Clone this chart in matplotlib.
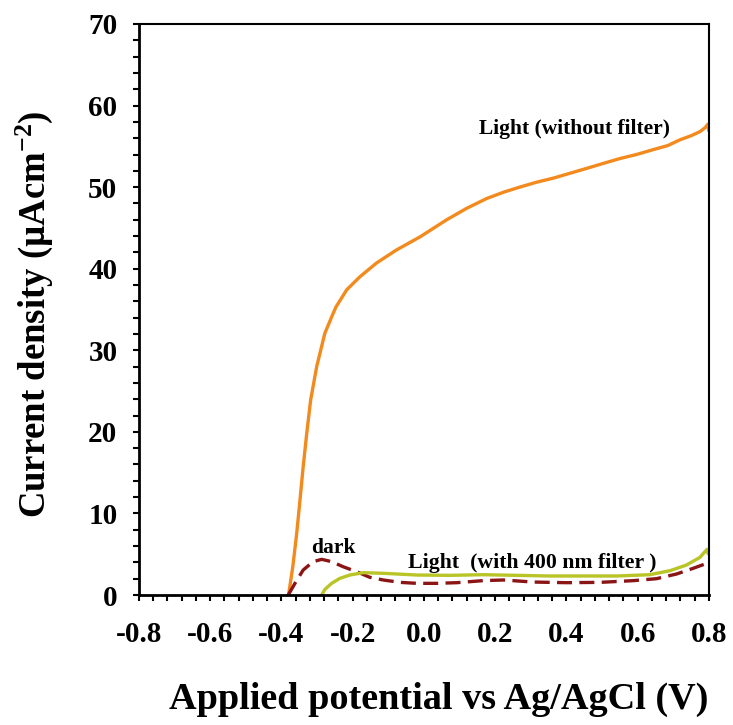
import numpy as np
import matplotlib
matplotlib.use('Agg')
import matplotlib.pyplot as plt
from matplotlib.ticker import MultipleLocator, FormatStrFormatter

plt.rcParams['font.family'] = 'Liberation Serif'
plt.rcParams['font.weight'] = 'bold'
plt.rcParams['axes.unicode_minus'] = False
plt.rcParams['mathtext.fontset'] = 'custom'
plt.rcParams['mathtext.rm'] = 'Liberation Serif:bold'
plt.rcParams['mathtext.bf'] = 'Liberation Serif:bold'
plt.rcParams['mathtext.default'] = 'bf'

# Light (without filter)
light_x = [-0.380, -0.368, -0.357, -0.348, -0.339, -0.329, -0.318, -0.301, -0.278, -0.255,
           -0.247, -0.217, -0.180, -0.133, -0.077, -0.011, 0.064, 0.120, 0.176, 0.225,
           0.269, 0.316, 0.363, 0.410, 0.457, 0.503, 0.550, 0.597, 0.644, 0.685,
           0.719, 0.750, 0.775, 0.790, 0.797, 0.800]
light_y = [0.0, 3.5, 7.6, 11.6, 15.7, 19.8, 23.9, 28.0, 32.1, 34.5,
           35.3, 37.4, 39.0, 40.7, 42.3, 43.9, 46.0, 47.4, 48.6, 49.4,
           50.0, 50.6, 51.1, 51.7, 52.3, 52.9, 53.5, 54.0, 54.6, 55.1,
           55.8, 56.3, 56.8, 57.3, 57.7, 57.0]

# dark
dark_x = [-0.381, -0.362, -0.339, -0.311, -0.287, -0.259, -0.227, -0.189, -0.152, -0.114,
          -0.067, -0.020, 0.035, 0.092, 0.166, 0.223, 0.307, 0.400, 0.494, 0.588,
          0.653, 0.709, 0.756, 0.794, 0.798]
dark_y = [0.0, 1.43, 3.06, 4.09, 4.37, 4.09, 3.47, 2.86, 2.17, 1.84,
          1.55, 1.43, 1.43, 1.51, 1.76, 1.84, 1.59, 1.51, 1.55, 1.76,
          2.0, 2.57, 3.27, 3.88, 3.47]

# Light (with 400 nm filter)
filt_x = [-0.287, -0.278, -0.259, -0.236, -0.208, -0.170, -0.114, -0.020, 0.073, 0.166,
          0.260, 0.354, 0.447, 0.541, 0.634, 0.691, 0.737, 0.775, 0.795, 0.798]
filt_y = [0.0, 0.69, 1.43, 2.04, 2.45, 2.74, 2.66, 2.45, 2.41, 2.49,
          2.41, 2.33, 2.33, 2.33, 2.49, 2.98, 3.67, 4.61, 5.6, 5.11]

fig = plt.figure(figsize=(7.33, 7.25), dpi=100)
ax = fig.add_axes([0.1896, 0.1793, 0.7774, 0.7876])

ax.plot(light_x, light_y, color='#F28A1E', lw=2.4, solid_joinstyle='round')
ax.plot(dark_x, dark_y, color='#8B1414', lw=2.4, dashes=(4.5, 2.2))
ax.plot(filt_x, filt_y, color='#B9C426', lw=2.4, solid_joinstyle='round')

ax.set_xlim(-0.8, 0.8)
ax.set_ylim(0, 70)
ax.xaxis.set_major_locator(MultipleLocator(0.2))
ax.xaxis.set_minor_locator(MultipleLocator(0.04))
ax.yaxis.set_major_locator(MultipleLocator(10))
ax.yaxis.set_minor_locator(MultipleLocator(2))
ax.xaxis.set_major_formatter(FormatStrFormatter('%.1f'))
ax.tick_params(which='both', direction='out', length=4.5, width=1.5, top=False, right=False)
ax.tick_params(axis='both', labelsize=21)
ax.tick_params(axis='x', pad=14)
ax.tick_params(axis='y', pad=11)
for s in ax.spines.values():
    s.set_linewidth(1.5)
    s.set_color('black')
ax.spines['left'].set_linewidth(2)
ax.spines['bottom'].set_linewidth(2)
for lab in ax.get_xticklabels() + ax.get_yticklabels():
    lab.set_fontweight('bold')

ax.set_xlabel('Applied potential vs Ag/AgCl (V)', fontsize=27.5, fontweight='bold')
ax.set_ylabel('Current density (\u00b5Acm$^{-2}$)', fontsize=26.5, fontweight='bold')
ax.xaxis.set_label_coords(0.526, -0.152)
ax.yaxis.set_label_coords(-0.147, 0.492)

ax.text(0.424, 57.1, 'Light (without filter)', fontsize=15.5, fontweight='bold', ha='center', va='center')
ax.text(-0.253, 5.76, 'dark', fontsize=15.5, fontweight='bold', ha='center', va='center')
ax.text(0.305, 3.92, 'Light  (with 400 nm filter )', fontsize=15.7, fontweight='bold', ha='center', va='center')

fig.savefig('out.png', dpi=100)
